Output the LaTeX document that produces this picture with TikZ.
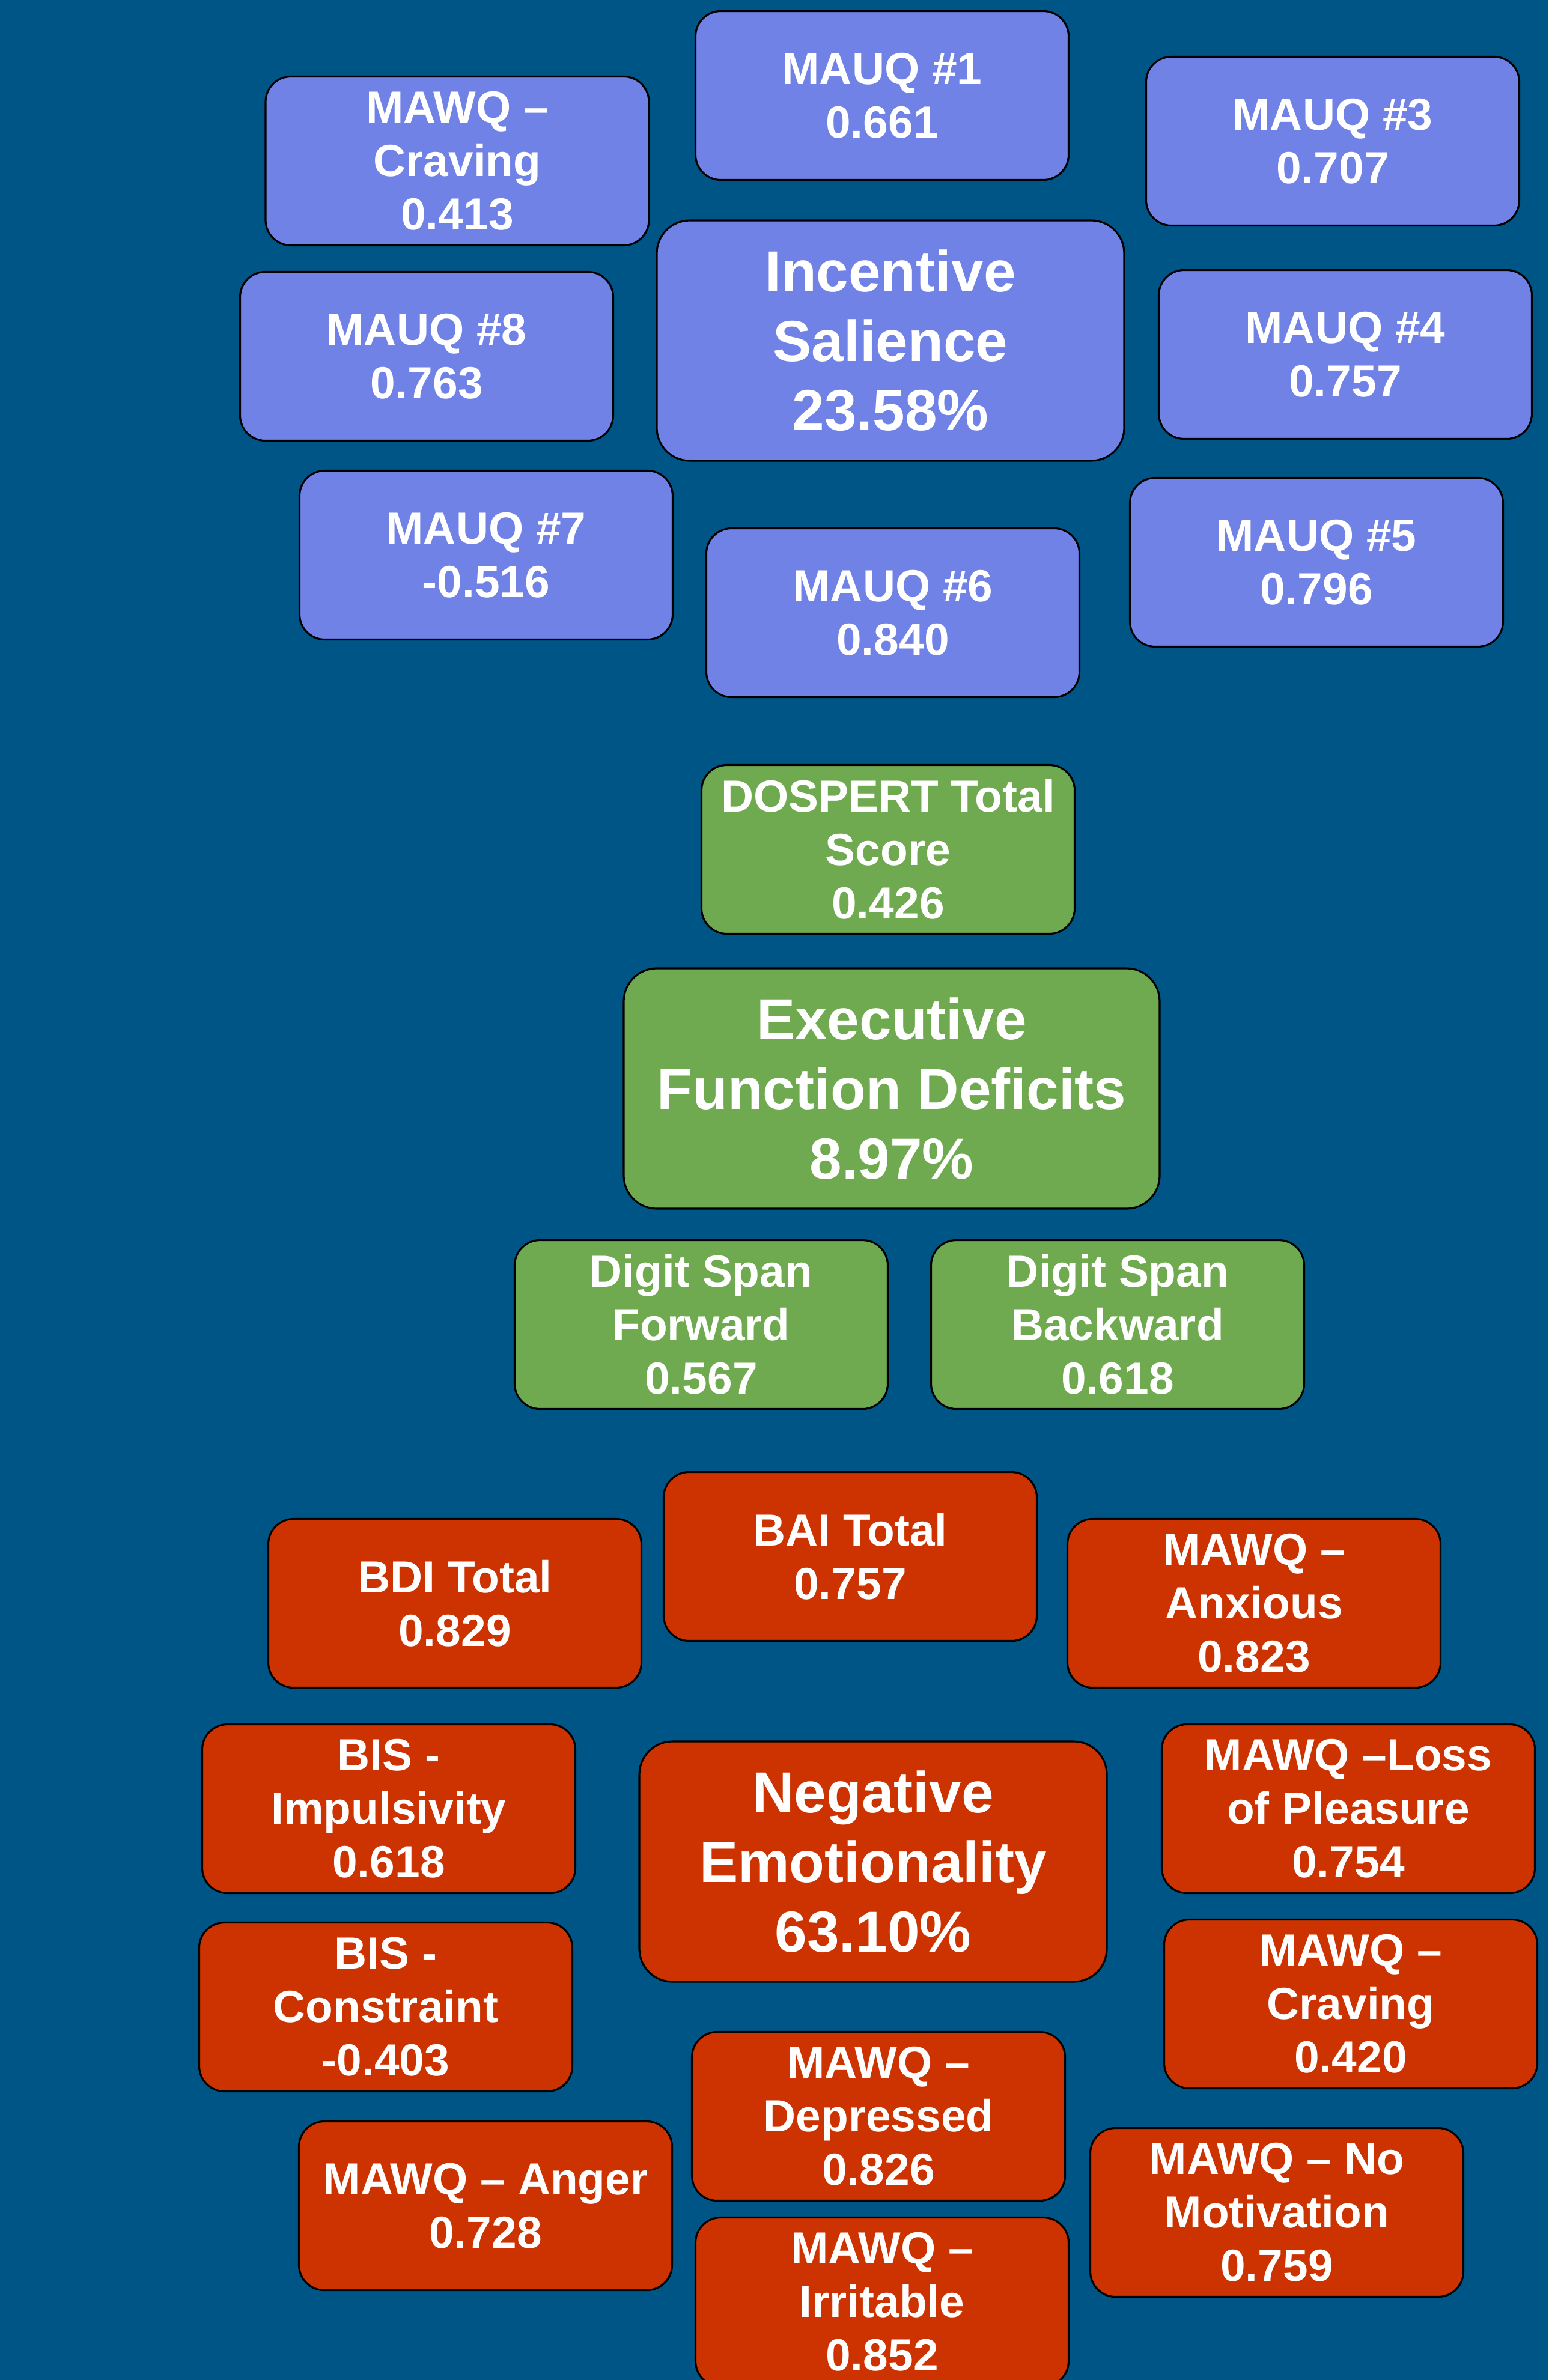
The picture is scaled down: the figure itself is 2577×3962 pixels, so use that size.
\documentclass[tikz,border=0pt]{standalone}
\usepackage{fontspec}
\setmainfont{Liberation Sans}
\definecolor{bgblue}{HTML}{005587}
\definecolor{salblue}{HTML}{7082E6}
\definecolor{exgreen}{HTML}{70AA50}
\definecolor{negred}{HTML}{CC3300}
\tikzset{
  item/.style={draw=black, line width=0.9pt, rounded corners=4.2mm, inner sep=0pt,
    minimum width=62.1mm, minimum height=28.1mm, align=center, text=white,
    font=\bfseries\fontsize{21.3}{25.3}\selectfont,
    execute at begin node={\rule{0pt}{0.86em}}},
  factor/.style={item, rounded corners=5.5mm, minimum width=77.8mm, minimum height=40mm,
    font=\bfseries\fontsize{27.4}{32.9}\selectfont},
  sal/.style={fill=salblue},
  exf/.style={fill=exgreen},
  neg/.style={fill=negred}
}
\begin{document}
\begin{tikzpicture}[x=0.1mm,y=-0.1mm]
				% background
				\fill[bgblue] (0,0) rectangle (2577,3962);
				\useasboundingbox (0,0) rectangle (2577,3962);
				% incentive salience
				\node[factor,sal] (incent) at (1482,567) {Incentive\\Salience\\23.58\%};
				\node[item,sal,minimum width=63.8mm] (cravB) at (761,268) {MAWQ --\\Craving\\0.413};
				\node[item,sal] (mauqA) at (1468,159) {MAUQ \#1\\0.661};
				\node[item,sal] (mauqC) at (2218,235) {MAUQ \#3\\0.707};
				\node[item,sal] (mauqH) at (710,593) {MAUQ \#8\\0.763};
				\node[item,sal] (mauqD) at (2239,590) {MAUQ \#4\\0.757};
				\node[item,sal] (mauqG) at (809,924) {MAUQ \#7\\-0.516};
				\node[item,sal] (mauqF) at (1486,1020) {MAUQ \#6\\0.840};
				\node[item,sal] (mauqE) at (2191,936) {MAUQ \#5\\0.796};
				% executive function
				\node[item,exf] (dospert) at (1478,1414) {DOSPERT Total\\Score\\0.426};
				\node[factor,exf,minimum width=89.2mm] (exec) at (1484,1812) {Executive\\Function Deficits\\8.97\%};
				\node[item,exf] (dsf) at (1167,2205) {Digit Span\\Forward\\0.567};
				\node[item,exf] (dsb) at (1860,2205) {Digit Span\\Backward\\0.618};
				% negative emotionality
				\node[factor,neg] (negem) at (1453,3099) {Negative\\Emotionality\\63.10\%};
				\node[item,neg] (bai) at (1415,2591) {BAI Total\\0.757};
				\node[item,neg] (bdi) at (757,2669) {BDI Total\\0.829};
				\node[item,neg] (anx) at (2087,2669) {MAWQ --\\Anxious\\0.823};
				\node[item,neg] (imp) at (647,3011) {BIS -\\Impulsivity\\0.618};
				\node[item,neg] (loss) at (2244,3011) {MAWQ --Loss\\of Pleasure\\0.754};
				\node[item,neg] (constr) at (642,3341) {BIS -\\Constraint\\-0.403};
				\node[item,neg] (cravR) at (2248,3336) {MAWQ --\\Craving\\0.420};
				\node[item,neg] (depr) at (1462,3523) {MAWQ --\\Depressed\\0.826};
				\node[item,neg] (anger) at (808,3672) {MAWQ -- Anger\\0.728};
				\node[item,neg] (nomot) at (2125,3683) {MAWQ -- No\\Motivation\\0.759};
				\node[item,neg] (irrit) at (1468,3832) {MAWQ --\\Irritable\\0.852};
\end{tikzpicture}
\end{document}
